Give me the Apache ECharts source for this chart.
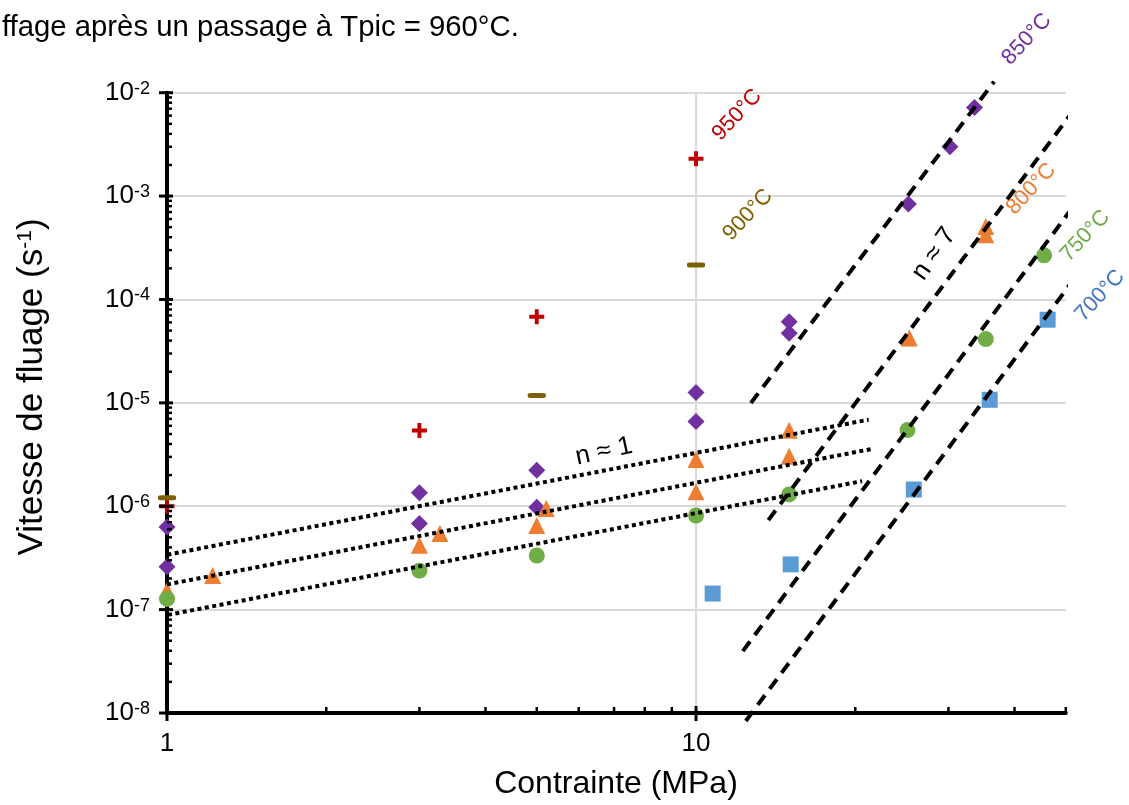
<!DOCTYPE html>
<html><head><meta charset="utf-8">
<script src="https://cdn.jsdelivr.net/npm/echarts@6/dist/echarts.min.js"></script>
<style>html,body{margin:0;padding:0;background:#fff;}#c{width:1129px;height:805px;}</style>
</head><body><div id="c"></div>
<script>
const FONT = '"Liberation Sans", Arial, Helvetica, sans-serif';

// ---- Data: stress (MPa) vs creep rate (s^-1) ----
const t950_x = [1, 3, 5, 10];
const t950_y = [1.0e-6, 5.4e-6, 6.8e-5, 2.3e-3];
const t900_x = [1, 5, 10];
const t900_y = [1.21e-6, 1.18e-5, 2.16e-4];
const t850_x = [1, 1, 3, 3, 5, 5, 10, 10, 15, 15, 25.2, 30.2, 33.6];
const t850_y = [6.3e-7, 2.6e-7, 1.35e-6, 6.8e-7, 2.23e-6, 9.8e-7, 1.26e-5, 6.6e-6, 6.1e-5, 4.7e-5, 8.4e-4, 3.0e-3, 7.2e-3];
const t800_x = [1, 1.22, 3, 3.28, 5, 5.21, 10, 10, 15, 15, 25.3, 35.3, 35.3];
const t800_y = [1.53e-7, 2.14e-7, 4.2e-7, 5.45e-7, 6.5e-7, 9.5e-7, 2.83e-6, 1.38e-6, 5.44e-6, 3.04e-6, 4.24e-5, 5.07e-4, 4.22e-4];
const t750_x = [1, 3, 5, 10, 15, 25.1, 35.3, 45.5];
const t750_y = [1.27e-7, 2.38e-7, 3.34e-7, 8.13e-7, 1.30e-6, 5.45e-6, 4.14e-5, 2.67e-4];
const t700_x = [10.75, 15.1, 25.8, 35.9, 46.2];
const t700_y = [1.43e-7, 2.74e-7, 1.45e-6, 1.07e-5, 6.37e-5];

// trend lines n ~ 1 (dotted) : [x0, x1], [y0, y1]
const n1a_x = [0.97, 21.2],  n1a_y = [3.29e-7, 6.88e-6];
const n1b_x = [1.0, 21.5],   n1b_y = [1.75e-7, 3.58e-6];
const n1c_x = [0.942, 20.6], n1c_y = [8.35e-8, 1.75e-6];
// trend lines n ~ 7 (dashed)
const n7_850_x = [12.7, 36.6],  n7_850_y = [9.97e-6, 1.28e-2];
const n7_800_x = [13.7, 53.6],  n7_800_y = [7.33e-7, 8.63e-3];
const n7_750_x = [12.26, 51.1], n7_750_y = [3.97e-8, 7.36e-4];
const n7_700_x = [12.42, 51.7], n7_700_y = [8.37e-9, 1.55e-4];

// axis ticks
const xMajorTicks = [1, 10];
const xMinorTicks = [2, 3, 4, 5, 6, 7, 8, 9, 20, 30, 40, 50];
const yMajorTicks = [1e-8, 1e-7, 1e-6, 1e-5, 1e-4, 1e-3, 1e-2];
const yMinorMantissa = [2, 3, 4, 5, 6, 7, 8, 9];
const xLabelTicks = [1, 10];

// annotations
const annText  = ['950°C', '900°C', '850°C', '800°C', '750°C', '700°C', 'n ≈ 7', 'n ≈ 1'];
const annX     = [11.95, 12.53, 42.2, 43.0, 54.4, 58.0, 28.2, 6.70];
const annY     = [6.09e-3, 6.58e-4, 3.30e-2, 1.17e-3, 4.12e-4, 1.09e-4, 2.76e-4, 3.38e-6];
const annColor = ['#C00000', '#7F6000', '#7030A0', '#ED7D31', '#70AD47', '#4472C4', '#000000', '#000000'];
const annAngle = [47, 47, 47, 47, 47, 47, 55, 12];
const annSize  = [22, 22, 22, 22, 22, 22, 26, 26];

const zip = (xs, ys) => xs.map((x, i) => [x, ys[i]]);
const yMinorTicks = [];
yMajorTicks.slice(0, -1).forEach(d => yMinorMantissa.forEach(m => yMinorTicks.push(d * m)));

const chart = echarts.init(document.getElementById('c'));

function scatter(name, xs, ys, symbol, size, color) {
  return { name, type: 'scatter', data: zip(xs, ys), symbol, symbolSize: size,
    itemStyle: { color, opacity: 1 }, z: 3, silent: true, clip: false };
}
function trend(xs, ys, dash) {
  return { type: 'line', data: zip(xs, ys), showSymbol: false, symbol: 'none', silent: true, clip: false, z: 5,
    lineStyle: { color: '#000', width: 4, type: dash, cap: 'butt' } };
}
// tick renderer: kind 0 = x major, 1 = x minor, 2 = y major, 3 = y minor
function tickSeries() {
  const data = [];
  xMajorTicks.forEach(v => data.push([v, 1e-8, 0]));
  xMinorTicks.forEach(v => data.push([v, 1e-8, 1]));
  yMajorTicks.forEach(v => data.push([1, v, 2]));
  yMinorTicks.forEach(v => data.push([1, v, 3]));
  return { type: 'custom', silent: true, z: 6, clip: false, data,
    renderItem: (params, api) => {
      const p = api.coord([api.value(0), api.value(1)]);
      const k = api.value(2);
      let shape;
      if (k === 0) shape = { x1: p[0], y1: p[1] - 7, x2: p[0], y2: p[1] + 8 };
      else if (k === 1) shape = { x1: p[0], y1: p[1] - 6, x2: p[0], y2: p[1] };
      else if (k === 2) shape = { x1: p[0] - 8, y1: p[1], x2: p[0] + 6, y2: p[1] };
      else shape = { x1: p[0], y1: p[1], x2: p[0] + 5, y2: p[1] };
      return { type: 'line', shape, style: { stroke: '#000', lineWidth: k % 2 === 0 ? 3 : 2.5 } };
    } };
}
function vGridSeries() {
  return { type: 'custom', silent: true, z: 1, data: [[10]],
    renderItem: (params, api) => {
      const a = api.coord([api.value(0), 1e-8]);
      const b = api.coord([api.value(0), 1e-2]);
      return { type: 'line', shape: { x1: a[0], y1: a[1], x2: b[0], y2: b[1] },
        style: { stroke: '#D9D9D9', lineWidth: 2 } };
    } };
}

const plusPath = 'path://M3.7 0H6.3V3.7H10V6.3H6.3V10H3.7V6.3H0V3.7H3.7Z';

chart.setOption({
  animation: false,
  backgroundColor: '#fff',
  grid: { left: 167, right: 63.2, top: 92.7, bottom: 92, containLabel: false },
  xAxis: {
    type: 'log', logBase: 10, min: 1, max: 50,
    axisLine: { show: true, lineStyle: { color: '#000', width: 4 } },
    axisTick: { show: false },
    minorTick: { show: false },
    splitLine: { show: false },
    axisLabel: { margin: 18, color: '#000', fontSize: 26, fontFamily: FONT,
      formatter: v => xLabelTicks.some(t => Math.abs(t - v) < 1e-6) ? String(Math.round(v)) : '' }
  },
  yAxis: {
    type: 'log', logBase: 10, min: 1e-8, max: 1e-2, splitNumber: 6,
    axisLine: { show: true, lineStyle: { color: '#000', width: 4 } },
    axisTick: { show: false },
    minorTick: { show: false },
    splitLine: { show: true, lineStyle: { color: '#D9D9D9', width: 2 } },
    axisLabel: { margin: 17, color: '#000',
      formatter: v => '{b|10}{s|' + Math.round(Math.log10(v)) + '}',
      rich: { b: { fontSize: 26, fontFamily: FONT, color: '#000' },
              s: { fontSize: 18, fontFamily: FONT, color: '#000', verticalAlign: 'top' } } }
  },
  series: [
    vGridSeries(),
    scatter('950°C', t950_x, t950_y, plusPath, 15, '#C00000'),
    scatter('900°C', t900_x, t900_y, 'roundRect', [18, 5], '#7F6000'),
    scatter('850°C', t850_x, t850_y, 'diamond', 17, '#7030A0'),
    scatter('800°C', t800_x, t800_y, 'triangle', 17, '#ED7D31'),
    scatter('750°C', t750_x, t750_y, 'circle', 16, '#70AD47'),
    scatter('700°C', t700_x, t700_y, 'rect', 16, '#5B9BD5'),
    trend(n1a_x, n1a_y, [4, 3.5]),
    trend(n1b_x, n1b_y, [4, 3.5]),
    trend(n1c_x, n1c_y, [4, 3.5]),
    trend(n7_850_x, n7_850_y, [12, 8]),
    trend(n7_800_x, n7_800_y, [12, 8]),
    trend(n7_750_x, n7_750_y, [12, 8]),
    trend(n7_700_x, n7_700_y, [12, 8]),
    tickSeries()
  ]
});

const graphics = annText.map((t, i) => {
  const p = chart.convertToPixel({ gridIndex: 0 }, [annX[i], annY[i]]);
  return { type: 'text', x: p[0], y: p[1], rotation: annAngle[i] * Math.PI / 180, z: 10, silent: true,
    style: { text: t, fill: annColor[i], font: annSize[i] + 'px ' + FONT, align: 'center', verticalAlign: 'middle' } };
});
graphics.push({ type: 'text', x: 2, y: 28, z: 10, silent: true,
  style: { text: 'ffage après un passage à Tpic = 960°C.', fill: '#000', font: '29.3px ' + FONT, align: 'left', verticalAlign: 'middle' } });
graphics.push({ type: 'text', x: 616, y: 784, z: 10, silent: true,
  style: { text: 'Contrainte (MPa)', fill: '#000', font: '32px ' + FONT, align: 'center', verticalAlign: 'middle' } });
graphics.push({ type: 'text', x: 32, y: 387, z: 10, silent: true, rotation: Math.PI / 2,
  style: { text: '{n|Vitesse de fluage (s}{s|-1}{n|)}', align: 'center', verticalAlign: 'middle',
    rich: { n: { fontSize: 35, fontFamily: FONT, fill: '#000' },
            s: { fontSize: 21, fontFamily: FONT, fill: '#000', verticalAlign: 'top' } } } });
chart.setOption({ graphic: graphics });
</script></body></html>
